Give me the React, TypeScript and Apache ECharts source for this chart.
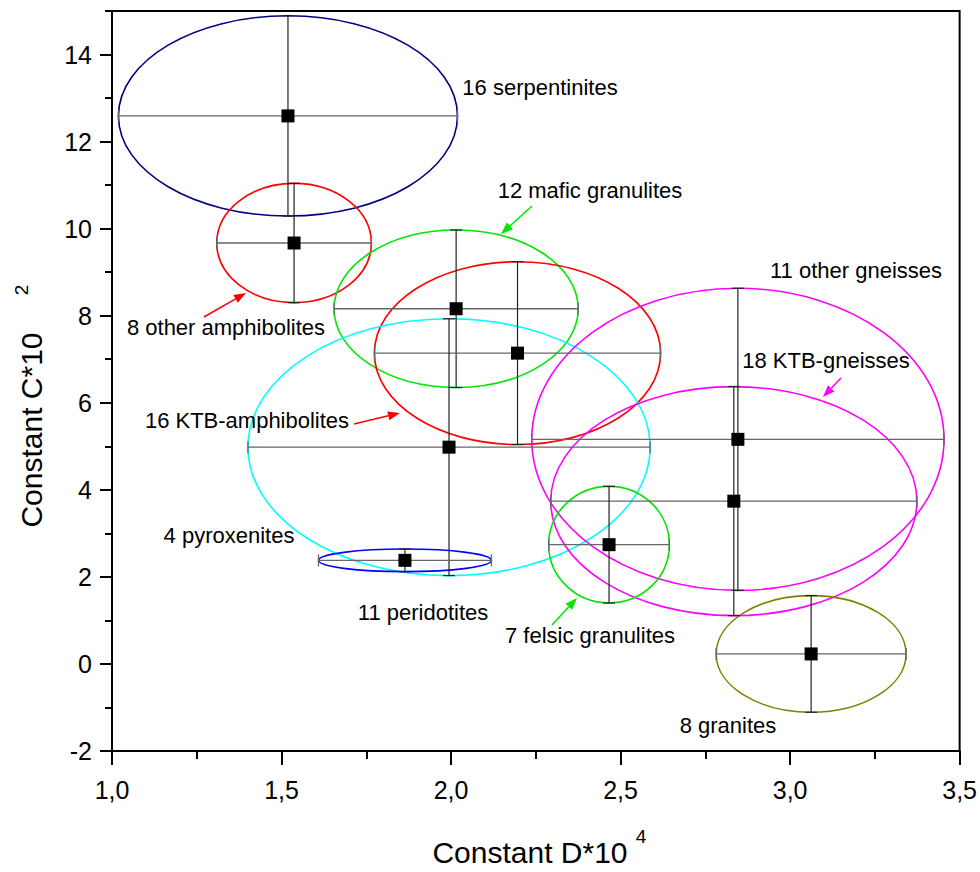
import React, { useEffect, useRef } from "react";
import * as echarts from "echarts";

// Rock groups (mean values with scatter)
const GROUPS = [
  "16 serpentinites",
  "8 other amphibolites",
  "12 mafic granulites",
  "16 KTB-amphibolites",
  "4 pyroxenites",
  "11 other gneisses",
  "18 KTB-gneisses",
  "7 felsic granulites",
  "8 granites",
  "11 peridotites",
];
const D_MEAN = [1.519, 1.537, 2.015, 2.196, 1.994, 2.846, 2.834, 2.466, 3.062, 1.864];
const C_MEAN = [12.59, 9.67, 8.16, 7.14, 4.98, 5.16, 3.74, 2.74, 0.23, 2.38];
const D_ERR = [0.5, 0.228, 0.36, 0.422, 0.593, 0.608, 0.54, 0.178, 0.28, 0.255];
const C_ERR = [2.3, 1.37, 1.81, 2.1, 2.95, 3.47, 2.63, 1.34, 1.34, 0.26];
const COLORS = [
  "#000080",
  "#ff0000",
  "#00e600",
  "#ff0000",
  "#00ffff",
  "#ff00ff",
  "#ff00ff",
  "#00e600",
  "#808000",
  "#0000ff",
];

const X_TICKS = [1.0, 1.5, 2.0, 2.5, 3.0, 3.5];
const Y_MAJOR = [-2, 0, 2, 4, 6, 8, 10, 12, 14];
const Y_MINOR = [-1, 1, 3, 5, 7, 9, 11, 13, 15];

// Annotation layout (pixels)
const LABELS = [
  { text: "16 serpentinites", x: 540, y: 87 },
  { text: "12 mafic granulites", x: 590, y: 190 },
  { text: "8 other amphibolites", x: 226, y: 327 },
  { text: "16 KTB-amphibolites", x: 247, y: 420 },
  { text: "4 pyroxenites", x: 229, y: 535 },
  { text: "11 peridotites", x: 423, y: 612 },
  { text: "7 felsic granulites", x: 590, y: 635 },
  { text: "11 other gneisses", x: 856, y: 270 },
  { text: "18 KTB-gneisses", x: 826, y: 360 },
  { text: "8 granites", x: 728, y: 725 },
];
const ARROWS = [
  { from: [532, 206], to: [501, 234], color: "#00e600" },
  { from: [204, 317], to: [246, 293], color: "#ff0000" },
  { from: [354, 424], to: [400, 413], color: "#ff0000" },
  { from: [552, 625], to: [577, 598], color: "#00e600" },
  { from: [841, 378], to: [823, 397], color: "#ff00ff" },
];

const FONT = "'Liberation Sans', Arial, sans-serif";

function arrowGraphics(a: any) {
  const [fx, fy] = a.from;
  const [tx, ty] = a.to;
  const dx = tx - fx, dy = ty - fy;
  const len = Math.sqrt(dx * dx + dy * dy);
  const ux = dx / len, uy = dy / len;
  const hl = 12, hw = 4.5;
  const bx = tx - ux * hl, by = ty - uy * hl;
  const px = -uy, py = ux;
  return [
    {
      type: "line",
      shape: { x1: fx, y1: fy, x2: bx, y2: by },
      style: { stroke: a.color, lineWidth: 1.5 },
    },
    {
      type: "polygon",
      shape: {
        points: [
          [tx, ty],
          [bx + px * hw, by + py * hw],
          [bx - px * hw, by - py * hw],
        ],
      },
      style: { fill: a.color },
    },
  ];
}

function textEl(text: string, x: number, y: number, size: number, rotation = 0) {
  return {
    type: "text",
    x,
    y,
    rotation,
    z: 20,
    style: {
      text,
      fontSize: size,
      fontFamily: FONT,
      fill: "#000",
      align: "center",
      verticalAlign: "middle",
      textAlign: "center",
      textVerticalAlign: "middle",
    },
  };
}

export default function App() {
  const ref = useRef<HTMLDivElement>(null);

  useEffect(() => {
    if (!ref.current) return;
    const chart = echarts.init(ref.current, null, { renderer: "svg" });
    const rows = D_MEAN.map((d, i) => [d, C_MEAN[i], D_ERR[i], C_ERR[i], i]);

    const graphics: any[] = [];
    LABELS.forEach((l) => graphics.push(textEl(l.text, l.x, l.y, 22)));
    ARROWS.forEach((a) => arrowGraphics(a).forEach((g) => graphics.push({ ...g, z: 20 })));
    // axis titles
    graphics.push(textEl("Constant D*10", 530, 852, 30));
    graphics.push(textEl("4", 641, 836, 19));
    graphics.push(textEl("Constant C*10", 31, 430, 30, Math.PI / 2));
    graphics.push(textEl("2", 21, 290, 19, Math.PI / 2));

    const tickLine = { lineStyle: { color: "#000", width: 2 } };

    chart.setOption({
      animation: false,
      backgroundColor: "#fff",
      grid: {
        left: 112,
        right: 20,
        top: 11,
        bottom: 121,
        show: true,
        borderColor: "#000",
        borderWidth: 2,
        backgroundColor: "transparent",
      },
      xAxis: {
        type: "value",
        min: 1,
        max: 3.5,
        interval: 0.5,
        axisLine: { show: true, onZero: false, ...tickLine },
        axisTick: { show: true, length: 14, ...tickLine },
        minorTick: { show: true, splitNumber: 2, length: 8, ...tickLine },
        splitLine: { show: false },
        minorSplitLine: { show: false },
        axisLabel: {
          customValues: X_TICKS,
          formatter: (v: number) => v.toFixed(1).replace(".", ","),
          fontSize: 25,
          fontFamily: FONT,
          color: "#000",
          margin: 26,
        },
      },
      yAxis: [
        {
          type: "value",
          min: -2,
          max: 15,
          position: "left",
          axisLine: { show: true, onZero: false, ...tickLine },
          axisTick: { show: true, length: 12, customValues: Y_MAJOR, ...tickLine },
          splitLine: { show: false },
          axisLabel: {
            customValues: Y_MAJOR,
            formatter: (v: number) => String(v),
            fontSize: 25,
            fontFamily: FONT,
            color: "#000",
            margin: 20,
          },
        },
        {
          type: "value",
          min: -2,
          max: 15,
          position: "left",
          axisLine: { show: false },
          axisTick: { show: true, length: 7, customValues: Y_MINOR, ...tickLine },
          splitLine: { show: false },
          axisLabel: { show: false },
        },
      ],
      series: [
        {
          type: "custom",
          name: "ellipses",
          data: rows,
          z: 2,
          renderItem: (params: any, api: any) => {
            const x = api.value(0), y = api.value(1), ex = api.value(2), ey = api.value(3);
            const i = api.value(4);
            const c = api.coord([x, y]);
            const l = api.coord([x - ex, y])[0];
            const r = api.coord([x + ex, y])[0];
            const t = api.coord([x, y + ey])[1];
            const b = api.coord([x, y - ey])[1];
            return {
              type: "ellipse",
              shape: { cx: c[0], cy: c[1], rx: (r - l) / 2, ry: (b - t) / 2 },
              style: { fill: "none", stroke: COLORS[i], lineWidth: 1.6 },
            };
          },
        },
        {
          type: "custom",
          name: "errors",
          data: rows,
          z: 3,
          renderItem: (params: any, api: any) => {
            const x = api.value(0), y = api.value(1), ex = api.value(2), ey = api.value(3);
            const c = api.coord([x, y]);
            const l = api.coord([x - ex, y])[0];
            const r = api.coord([x + ex, y])[0];
            const t = api.coord([x, y + ey])[1];
            const b = api.coord([x, y - ey])[1];
            const cap = 6;
            const sh = { stroke: "#666", lineWidth: 1.3 };
            const sv = { stroke: "#222", lineWidth: 1.2 };
            return {
              type: "group",
              children: [
                { type: "line", shape: { x1: l, y1: c[1], x2: r, y2: c[1] }, style: sh },
                { type: "line", shape: { x1: c[0], y1: t, x2: c[0], y2: b }, style: sv },
                { type: "line", shape: { x1: l, y1: c[1] - cap, x2: l, y2: c[1] + cap }, style: sh },
                { type: "line", shape: { x1: r, y1: c[1] - cap, x2: r, y2: c[1] + cap }, style: sh },
                { type: "line", shape: { x1: c[0] - cap, y1: t, x2: c[0] + cap, y2: t }, style: sv },
                { type: "line", shape: { x1: c[0] - cap, y1: b, x2: c[0] + cap, y2: b }, style: sv },
              ],
            };
          },
        },
        {
          type: "scatter",
          name: "means",
          data: rows.map((r) => [r[0], r[1]]),
          symbol: "rect",
          symbolSize: 13,
          itemStyle: { color: "#000", opacity: 1 },
          z: 5,
        },
      ],
      graphic: graphics,
    });

    return () => chart.dispose();
  }, []);

  return (
    <div
      ref={ref}
      style={{ position: "fixed", left: 0, top: 0, width: 980, height: 872, background: "#fff" }}
    />
  );
}
